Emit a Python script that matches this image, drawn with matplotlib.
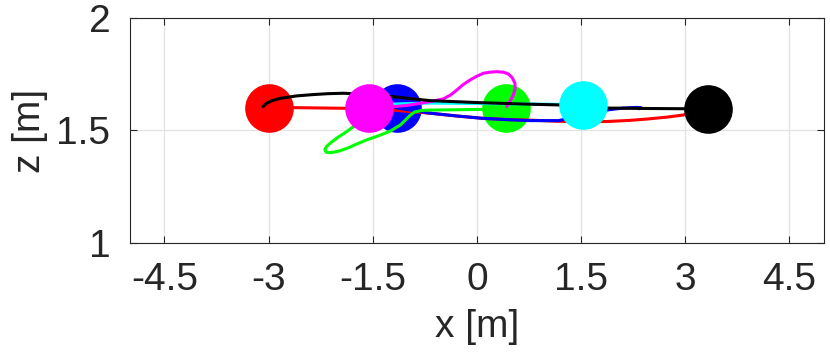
import matplotlib
matplotlib.use("Agg")
import matplotlib.pyplot as plt

# Ball positions (x, z)
ball_colors = ['red', 'blue', 'magenta', 'lime', 'cyan', 'black']
ball_x = [-3.0, -1.15, -1.55, 0.42, 1.53, 3.33]
ball_z = [1.60, 1.60, 1.60, 1.60, 1.615, 1.597]
ball_zorder = [1, 1, 4, 1, 4, 4]

# Trajectories
red_x = [-3.0, -2.69, -1.92, -1.22, -0.675, -0.3, 0.09, 0.45, 0.77, 1.17, 1.5, 1.87, 2.2, 2.45, 2.75, 2.97, 3.33]
red_z = [1.60, 1.602, 1.599, 1.591, 1.577, 1.565, 1.554, 1.549, 1.546, 1.541, 1.539, 1.540, 1.545, 1.551, 1.560, 1.569, 1.597]

black_x = [3.33, 2.97, 2.45, 1.87, 1.17, 0.77, 0.05, -0.675, -1.22, -1.6, -1.92, -2.15, -2.36, -2.6, -2.835, -2.95, -3.03, -3.06, -3.08]
black_z = [1.597, 1.597, 1.598, 1.60, 1.614, 1.617, 1.624, 1.633, 1.651, 1.661, 1.666, 1.664, 1.660, 1.654, 1.643, 1.633, 1.621, 1.613, 1.606]

blue_x = [-1.15, -0.7, -0.3, 0.05, 0.45, 0.77, 1.17, 1.53, 1.87, 2.10, 2.30, 2.36, 2.37, 2.33]
blue_z = [1.60, 1.578, 1.565, 1.555, 1.548, 1.544, 1.544, 1.565, 1.591, 1.60, 1.603, 1.602, 1.600, 1.597]

cyan_x = [-1.55, -1.22, -0.7, 0.09, 0.77, 1.53]
cyan_z = [1.60, 1.618, 1.622, 1.62, 1.618, 1.615]

magenta_x = [-1.55, -1.203, -1.0, -0.819, -0.65, -0.483, -0.38, -0.29, -0.2, -0.099, 0.0, 0.093, 0.19, 0.286, 0.38, 0.453, 0.51, 0.549, 0.55, 0.525, 0.48, 0.43]
magenta_z = [1.60, 1.606, 1.612, 1.621, 1.630, 1.641, 1.658, 1.680, 1.704, 1.725, 1.742, 1.755, 1.760, 1.762, 1.760, 1.752, 1.735, 1.710, 1.685, 1.658, 1.632, 1.606]

green_x = [0.42, 0.093, -0.4, -0.675, -0.80, -0.90, -0.97, -1.1, -1.25, -1.42, -1.59, -1.75, -1.875, -2.0, -2.115, -2.17, -2.19, -2.16, -2.115, -2.0, -1.875, -1.78, -1.65]
green_z = [1.60, 1.594, 1.592, 1.591, 1.589, 1.582, 1.565, 1.525, 1.497, 1.476, 1.458, 1.437, 1.42, 1.407, 1.401, 1.403, 1.416, 1.430, 1.443, 1.470, 1.495, 1.517, 1.545]

xticks = [-4.5, -3, -1.5, 0, 1.5, 3, 4.5]
xtick_labels = ['-4.5', '-3', '-1.5', '0', '1.5', '3', '4.5']
yticks = [1, 1.5, 2]
ytick_labels = ['1', '1.5', '2']

plt.rcParams['font.family'] = ['Liberation Sans', 'DejaVu Sans']
txt = '#262626'

fig = plt.figure(figsize=(8.3, 3.58), dpi=100)
ax = fig.add_axes([0.1563, 0.3221, 0.9928 - 0.1563, 0.9489 - 0.3221])

lw = 2.2
kw = dict(lw=lw, zorder=2, solid_capstyle='round', solid_joinstyle='round')
ax.plot(red_x, red_z, color='red', **kw)
ax.plot(blue_x, blue_z, color='blue', **kw)
ax.plot(green_x, green_z, color='lime', **kw)
ax.plot(cyan_x, cyan_z, color='cyan', **kw)
ax.plot(magenta_x, magenta_z, color='magenta', **kw)
ax.plot(black_x, black_z, color='black', **kw)

for c, bx, bz, zo in zip(ball_colors, ball_x, ball_z, ball_zorder):
    ax.plot([bx], [bz], 'o', color=c, markersize=35, markeredgewidth=0, zorder=zo)

ax.set_xlim(-5, 5)
ax.set_ylim(1, 2)
ax.set_xticks(xticks)
ax.set_xticklabels(xtick_labels)
ax.set_yticks(yticks)
ax.set_yticklabels(ytick_labels)
ax.grid(True, color='#e3e3e3', lw=0.9, zorder=0)
ax.set_axisbelow(True)
ax.tick_params(direction='in', length=5, width=0.8, colors=txt, labelsize=28,
               top=True, right=True)
ax.tick_params(axis='x', pad=14)
ax.tick_params(axis='y', pad=14)
for s in ax.spines.values():
    s.set_color(txt)
    s.set_linewidth(0.8)
ax.set_xlabel('x [m]', fontsize=28, color=txt, labelpad=8)
ax.set_ylabel('z [m]', fontsize=28, color=txt, labelpad=6)

fig.savefig('out.png', dpi=100)
